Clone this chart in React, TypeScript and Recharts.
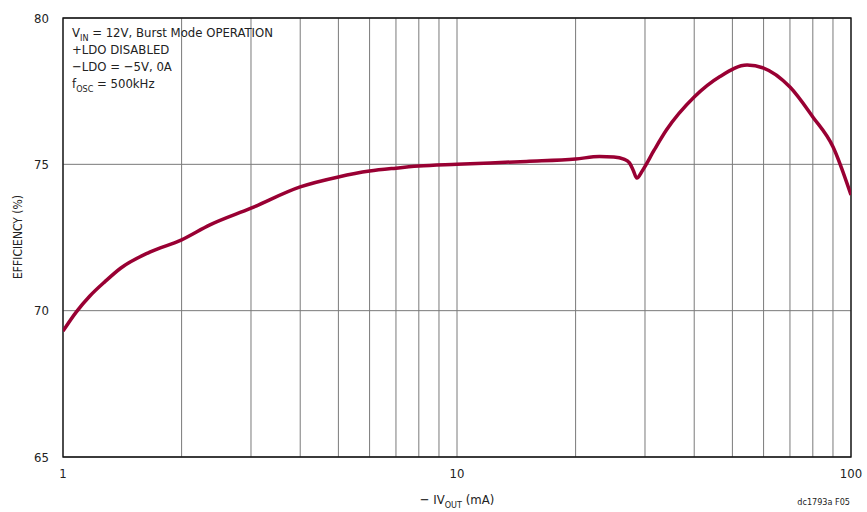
import React from "react";
import { LineChart, Line, XAxis, YAxis, CartesianGrid, ReferenceArea } from "recharts";

// load current (mA) vs efficiency (%)
const current = [1, 1.08, 1.17, 1.28, 1.4, 1.66, 2, 2.36, 3, 4, 5, 6, 7, 8, 10, 15, 20, 23, 25, 26.5, 27.4, 28, 28.6, 29.6, 31.7, 34, 40, 46.5, 54.5, 60, 70, 80, 90, 100];
const efficiency = [69.3, 69.95, 70.5, 71.0, 71.45, 72.0, 72.42, 72.93, 73.5, 74.23, 74.57, 74.77, 74.87, 74.94, 75.0, 75.1, 75.18, 75.27, 75.25, 75.18, 75.05, 74.8, 74.53, 74.8, 75.5, 76.17, 77.3, 78.0, 78.39, 78.29, 77.64, 76.62, 75.6, 73.95];

const xTicks = [1, 2, 3, 4, 5, 6, 7, 8, 9, 10, 20, 30, 40, 50, 60, 70, 80, 90, 100];
const xLabels = [1, 10, 100];
const yTicks = [65, 70, 75, 80];

const rows = current.map((c, i) => ({ i: c, e: efficiency[i] }));

const FONT = "'DejaVu Sans Condensed', 'Liberation Sans Narrow', Roboto, sans-serif";
const W = 867;
const H = 512;

export default function App() {
  return (
    <div style={{ position: "relative", width: W, height: H, background: "#fff", fontFamily: FONT, overflow: "hidden" }}>
      <style>{`html,body{margin:0;padding:0;overflow:hidden}`}</style>
      <LineChart width={W} height={H} data={rows} margin={{ top: 18, right: 16, bottom: 25, left: 33 }}>
        <CartesianGrid stroke="#7a7a7a" strokeWidth={1} />
        <XAxis
          dataKey="i"
          type="number"
          scale="log"
          domain={[1, 100]}
          ticks={xTicks}
          allowDataOverflow
          tickFormatter={(v) => (xLabels.includes(v) ? String(v) : "")}
          tickLine={false}
          axisLine={false}
          tickMargin={6}
          tick={{ fill: "#222", fontSize: 13, fontFamily: FONT }}
        />
        <YAxis
          type="number"
          domain={[65, 80]}
          ticks={yTicks}
          width={30}
          tickLine={false}
          axisLine={false}
          tickMargin={8}
          tick={{ fill: "#222", fontSize: 13, fontFamily: FONT }}
        />
        <ReferenceArea x1={1} x2={100} y1={65} y2={80} fill="none" stroke="#111" strokeWidth={1.3} ifOverflow="extendDomain" />
        <Line type="monotone" dataKey="e" stroke="#990033" strokeWidth={3.5} dot={false} isAnimationActive={false} />
      </LineChart>
      <svg width={W} height={H} style={{ position: "absolute", left: 0, top: 0, pointerEvents: "none" }} fontFamily={FONT} fill="#222">
        <g fontSize={13}>
          <text x={72} y={37}>
            V<tspan dy={4} fontSize={9}>IN</tspan>
            <tspan dy={-4}>{" = 12V, Burst Mode OPERATION"}</tspan>
          </text>
          <text x={72} y={54}>+LDO DISABLED</text>
          <text x={72} y={71}>−LDO = −5V, 0A</text>
          <text x={72} y={88}>
            f<tspan dy={4} fontSize={9}>OSC</tspan>
            <tspan dy={-4}>{" = 500kHz"}</tspan>
          </text>
        </g>
        <text x={457} y={504} fontSize={13} textAnchor="middle">
          {"− IV"}<tspan dy={4} fontSize={9}>OUT</tspan>
          <tspan dy={-4}>{" (mA)"}</tspan>
        </text>
        <text x={22} y={237} fontSize={12} textAnchor="middle" transform="rotate(-90 22 237)">EFFICIENCY (%)</text>
        <text x={850} y={505} fontSize={9} textAnchor="end">dc1793a F05</text>
      </svg>
    </div>
  );
}
